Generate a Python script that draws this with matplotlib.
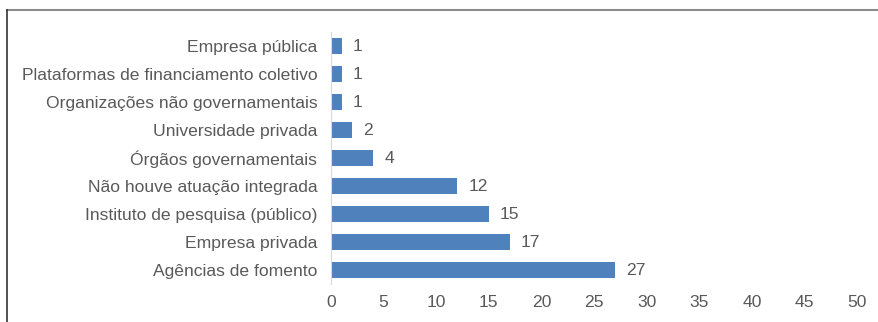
import matplotlib
matplotlib.use('Agg')
import matplotlib.pyplot as plt
from matplotlib.lines import Line2D

categories = ['Agências de fomento', 'Empresa privada',
              'Instituto de pesquisa (público)', 'Não houve atuação integrada',
              'Órgãos governamentais', 'Universidade privada',
              'Organizações não governamentais',
              'Plataformas de financiamento coletivo', 'Empresa pública']
values = [27, 17, 15, 12, 4, 2, 1, 1, 1]
x_ticks = [0, 5, 10, 15, 20, 25, 30, 35, 40, 45, 50]

text_color = '#595959'
bar_color = '#4F81BD'

plt.rcParams['font.family'] = ['Liberation Sans', 'DejaVu Sans']
plt.rcParams['font.size'] = 12.6

fig = plt.figure(figsize=(8.79, 3.22), dpi=100)
ax = fig.add_axes([0.3766, 0.118, 0.5984, 0.7826])

bars = ax.barh(categories, values, height=0.57, color=bar_color)
for rect, v in zip(bars, values):
    ax.annotate(str(v), (rect.get_width(), rect.get_y() + rect.get_height() / 2),
                xytext=(8, 0), textcoords='offset points',
                ha='left', va='center', color=text_color)

ax.set_xlim(0, 50)
ax.set_ylim(-0.5, len(categories) - 0.5)
ax.set_xticks(x_ticks)
ax.tick_params(axis='both', length=0, colors=text_color)
ax.tick_params(axis='x', pad=8)
ax.tick_params(axis='y', pad=10)
for side in ['top', 'right', 'bottom']:
    ax.spines[side].set_visible(False)
ax.spines['left'].set_color('#D9D9D9')

# frame of the original chart area, only top and left edges visible
fig.add_artist(Line2D([7.5 / 879, 1.0], [1 - 10 / 322, 1 - 10 / 322],
                      transform=fig.transFigure, color='#8c8c8c', lw=1.5))
fig.add_artist(Line2D([7.5 / 879, 7.5 / 879], [0, 1 - 10 / 322],
                      transform=fig.transFigure, color='#333333', lw=1.2))

fig.savefig('out.png', dpi=100)
